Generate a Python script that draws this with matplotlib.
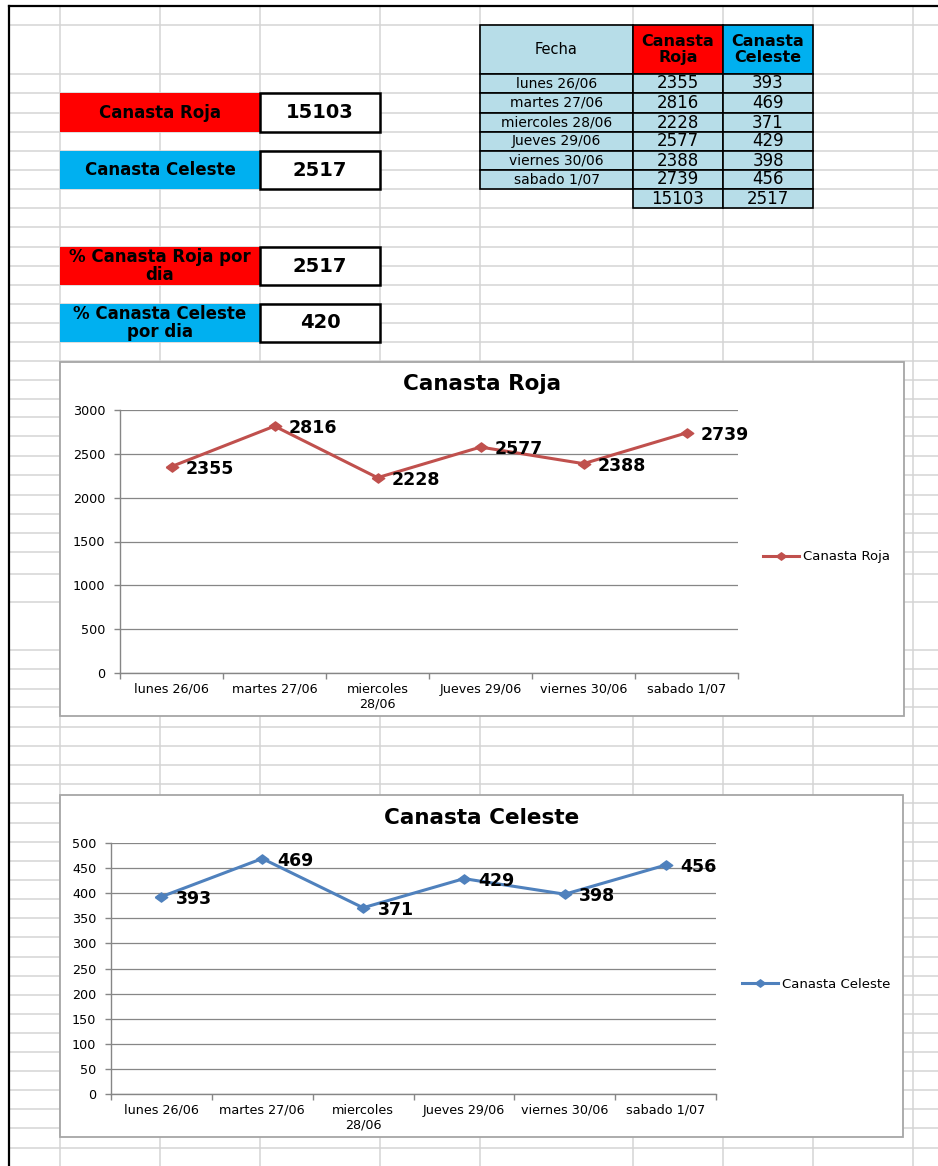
import matplotlib
matplotlib.use("Agg")
import matplotlib.pyplot as plt
from matplotlib.patches import Rectangle

# Datos de la hoja
fechas = ["lunes 26/06", "martes 27/06", "miercoles 28/06",
          "Jueves 29/06", "viernes 30/06", "sabado 1/07"]
roja = [2355, 2816, 2228, 2577, 2388, 2739]
celeste = [393, 469, 371, 429, 398, 456]
totales = [15103, 2517]          # Canasta Roja, Canasta Celeste
por_dia = [2517, 420]            # promedio por dia

# Rejilla de la hoja (pixeles)
W, H = 938, 1166
col_lines = [60, 160, 260, 380, 480, 633, 723, 813, 913]
row_lines = [25, 74, 93, 113, 132, 151, 170, 189, 208, 227, 247, 266, 285,
             304, 323, 342, 361, 380, 399, 417, 436, 456, 475, 495, 514, 533,
             552, 574, 602, 650, 669, 689, 707, 727, 746, 765, 784, 803, 823,
             842, 861, 880, 899, 918, 937, 957, 976, 995, 1014, 1033, 1052,
             1071, 1090, 1109, 1128, 1148]

ROJO = "#FF0000"
CELESTE = "#00B0F0"
AZUL_CLARO = "#B7DDE8"
GRIS = "#868686"

plt.rcParams["font.family"] = ["DejaVu Sans"]

fig = plt.figure(figsize=(W / 100, H / 100), dpi=100)
bg = fig.add_axes([0, 0, 1, 1])
bg.set_xlim(0, W)
bg.set_ylim(H, 0)
bg.axis("off")

# lineas de la hoja
bg.hlines(row_lines, 9, W, color="#D4D4D4", lw=1.1, zorder=0)
bg.vlines(col_lines, 6, H, color="#D4D4D4", lw=1.1, zorder=0)
bg.plot([9, W], [6, 6], color="black", lw=1.6, zorder=1)
bg.plot([9, 9], [6, H], color="black", lw=1.6, zorder=1)


def cell(x0, y0, x1, y1, text="", fc="white", ec="none", lw=1.0,
         size=10, weight="normal", ls=1.15):
    bg.add_patch(Rectangle((x0, y0), x1 - x0, y1 - y0, facecolor=fc,
                           edgecolor=ec, lw=lw, zorder=2))
    if text:
        bg.text((x0 + x1) / 2, (y0 + y1) / 2, text, ha="center", va="center",
                fontsize=size, fontweight=weight, linespacing=ls, zorder=3)


# cuadros de resumen a la izquierda
etiquetas = [("Canasta Roja", ROJO, 93, 132, totales[0]),
             ("Canasta Celeste", CELESTE, 151, 189, totales[1]),
             ("% Canasta Roja por\ndia", ROJO, 247, 285, por_dia[0]),
             ("% Canasta Celeste\npor dia", CELESTE, 304, 342, por_dia[1])]
for texto, color, y0, y1, valor in etiquetas:
    cell(60, y0, 260, y1, texto, fc=color, size=12, weight="bold", ls=1.05)
    cell(260, y0, 380, y1, str(valor), ec="black", lw=1.8,
         size=14, weight="bold")

# tabla de datos
cell(480, 25, 633, 74, "Fecha", fc=AZUL_CLARO, ec="black", lw=1.2, size=10.5)
cell(633, 25, 723, 74, "Canasta\nRoja", fc=ROJO, ec="black", lw=1.2,
     size=11.5, weight="bold")
cell(723, 25, 813, 74, "Canasta\nCeleste", fc=CELESTE, ec="black", lw=1.2,
     size=11.5, weight="bold")
for i, (f, r, c) in enumerate(zip(fechas, roja, celeste)):
    y0, y1 = row_lines[i + 1], row_lines[i + 2]
    cell(480, y0, 633, y1, f, fc=AZUL_CLARO, ec="black", lw=1.2, size=10)
    cell(633, y0, 723, y1, str(r), fc=AZUL_CLARO, ec="black", lw=1.2,
         size=12)
    cell(723, y0, 813, y1, str(c), fc=AZUL_CLARO, ec="black", lw=1.2,
         size=12)
cell(633, 189, 723, 208, str(totales[0]), fc=AZUL_CLARO, ec="black", lw=1.2,
     size=12)
cell(723, 189, 813, 208, str(totales[1]), fc=AZUL_CLARO, ec="black", lw=1.2,
     size=12)

etiquetas_eje = [f.replace("miercoles ", "miercoles\n") for f in fechas]
diamante = [(-1.35, 0), (0, 1), (1.35, 0), (0, -1), (-1.35, 0)]


def grafico(frame, box, titulo, valores, color, ymax, paso, leyenda_xy):
    fx0, fy0, fx1, fy1 = frame
    bg.add_patch(Rectangle((fx0, fy0), fx1 - fx0, fy1 - fy0, facecolor="white",
                           edgecolor="#A6A6A6", lw=1.3, zorder=4))
    l, t, r, b, ty = box
    bg.text((fx0 + fx1) / 2, ty, titulo, ha="center", va="center",
            fontsize=15.5, fontweight="bold", zorder=5)

    ax = fig.add_axes([l / W, 1 - b / H, (r - l) / W, (b - t) / H])
    ax.set_facecolor("none")
    x = [i + 0.5 for i in range(len(valores))]
    ax.plot(x, valores, color=color, lw=2.2, marker=diamante, ms=9,
            mec=color, mfc=color, label=titulo, clip_on=False)
    for xi, v in zip(x, valores):
        ax.annotate(str(v), (xi, v), xytext=(10.5, -1.5),
                    textcoords="offset points", ha="left", va="center",
                    fontsize=12.5, fontweight="bold")

    ax.set_xlim(0, len(valores))
    ax.set_ylim(0, ymax)
    ax.set_yticks(range(0, ymax + 1, paso))
    ax.set_xticks(x)
    ax.set_xticklabels(etiquetas_eje)
    ax.set_xticks(range(len(valores) + 1), minor=True)
    ax.tick_params(axis="x", which="major", length=0, pad=7, labelsize=9.2)
    ax.tick_params(axis="x", which="minor", length=4, color=GRIS, width=1)
    ax.tick_params(axis="y", length=4.5, color=GRIS, width=1, pad=6,
                   labelsize=9.2)
    ax.grid(axis="y", color=GRIS, lw=0.9)
    ax.set_axisbelow(True)
    for s in ["top", "right"]:
        ax.spines[s].set_visible(False)
    for s in ["left", "bottom"]:
        ax.spines[s].set_color(GRIS)
        ax.spines[s].set_linewidth(1)

    lx, ly = leyenda_xy
    ax.legend(loc="center left", bbox_to_anchor=(lx / W, 1 - ly / H),
              bbox_transform=fig.transFigure, frameon=False, borderpad=0,
              borderaxespad=0, handlelength=2.7, handletextpad=0.3,
              fontsize=9.5, markerscale=0.8)
    return ax


grafico((60, 362, 904, 716), (120, 410, 738, 673, 384), "Canasta Roja",
        roja, "#C0504D", 3000, 500, (763, 557))
grafico((60, 795, 903, 1137), (111, 843, 716, 1094, 818), "Canasta Celeste",
        celeste, "#4F81BD", 500, 50, (742, 984))

fig.savefig("out.png", dpi=100)
